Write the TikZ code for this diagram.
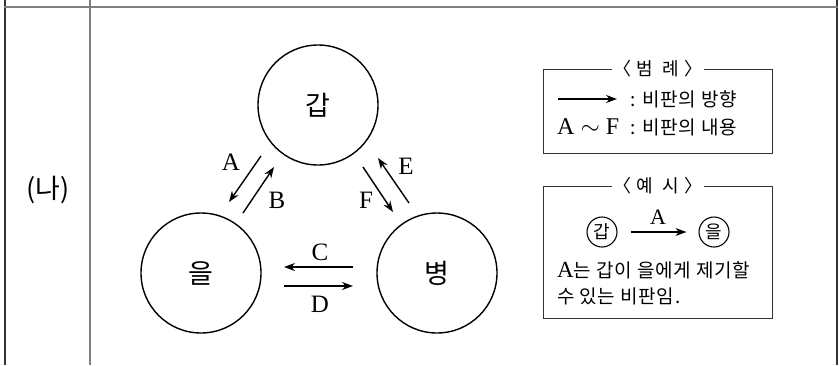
\documentclass[tikz,border=0pt]{standalone}
\usepackage{fontspec}
\newfontfamily\kr{Noto Sans CJK KR}
\newfontfamily\krw[LetterSpace=4]{Noto Sans CJK KR}
\newfontfamily\lab{Liberation Serif}
\usetikzlibrary{arrows.meta}
\begin{document}
\begin{tikzpicture}[x=1pt,y=-1pt,
  bigcirc/.style={circle,draw,line width=1.4pt,minimum size=120pt,inner sep=0pt,font=\kr\fontsize{27}{30}\selectfont},
  smallcirc/.style={circle,draw,line width=1.1pt,minimum size=30pt,inner sep=0pt,font=\kr\fontsize{18}{20}\selectfont},
  rel/.style={line width=1.4pt,-{Stealth[length=11pt,width=8pt]}},
  lbl/.style={inner sep=0pt,font=\lab\fontsize{25}{27}\selectfont},
  legbox/.style={draw=black!80,line width=1pt},
  legtitle/.style={fill=white,inner sep=2pt,font=\kr\fontsize{18}{20}\selectfont},
  legtext/.style={anchor=west,inner sep=0pt,font=\krw\fontsize{19}{22}\selectfont},
  rule/.style={line width=2pt,draw=black!80},
  softrule/.style={line width=2pt,draw=black!50}]
\useasboundingbox (0,0) rectangle (839,365);
% table frame
\draw[rule] (5,0) -- (5,365);
\draw[rule] (837,0) -- (837,365);
\draw[softrule] (90,0) -- (90,365);
\draw[softrule] (4,6.5) -- (838,6.5);
\node[font=\kr\fontsize{27}{30}\selectfont] (label) at (48,190) {(나)};
% circles
\node[bigcirc] (gap) at (318,105) {갑};
\node[bigcirc] (eul) at (201,273) {을};
\node[bigcirc] (byeong) at (437,273) {병};
% arrow end points
\coordinate (a1) at (261,156); \coordinate (a2) at (229,202);
\coordinate (b1) at (243,213); \coordinate (b2) at (274,167);
\coordinate (f1) at (363,167); \coordinate (f2) at (393,212);
\coordinate (e1) at (409,203); \coordinate (e2) at (378,158);
\coordinate (c1) at (353,267); \coordinate (c2) at (284,267);
\coordinate (d1) at (284,286); \coordinate (d2) at (353,286);
\draw[rel] (a1) -- (a2);
\draw[rel] (b1) -- (b2);
\draw[rel] (f1) -- (f2);
\draw[rel] (e1) -- (e2);
\draw[rel] (c1) -- (c2);
\draw[rel] (d1) -- (d2);
\node[lbl] (la) at (231,162) {A};
\node[lbl] (lb) at (277,200) {B};
\node[lbl] (le) at (406,166) {E};
\node[lbl] (lf) at (366,200) {F};
\node[lbl] (lc) at (320,252) {C};
\node[lbl] (ld) at (320,304) {D};
% legend box
\draw[legbox] (543,69) rectangle (772,153);
\node[legtitle] (t1) at (658,69) {〈\hspace{5pt}범\hspace{9pt}례\hspace{5pt}〉};
\coordinate (g1) at (558,99); \coordinate (g2) at (617,99);
\draw[rel] (g1) -- (g2);
\node[legtext] (g3) at (630,99) {: 비판의 방향};
\node[legtext,font=\lab\fontsize{24}{26}\selectfont] (g4) at (557,127) {A $\sim$ F};
\node[legtext] (g5) at (630,127) {: 비판의 내용};
% example box
\draw[legbox] (543,186) rectangle (772,318);
\node[legtitle] (t2) at (658,186) {〈\hspace{5pt}예\hspace{9pt}시\hspace{5pt}〉};
\node[smallcirc] (x1) at (602,232) {갑};
\node[smallcirc] (x2) at (714,232) {을};
\draw[rel,shorten <=13pt,shorten >=12pt] (x1) -- (x2);
\node[inner sep=0pt,font=\lab\fontsize{22}{24}\selectfont] (xa) at (658,217) {A};
\node[legtext] (x3) at (557,270) {{\lab\fontsize{23}{22}\selectfont A}는 갑이 을에게 제기할};
\node[legtext] (x4) at (557,296) {수 있는 비판임.};
\end{tikzpicture}
\end{document}
